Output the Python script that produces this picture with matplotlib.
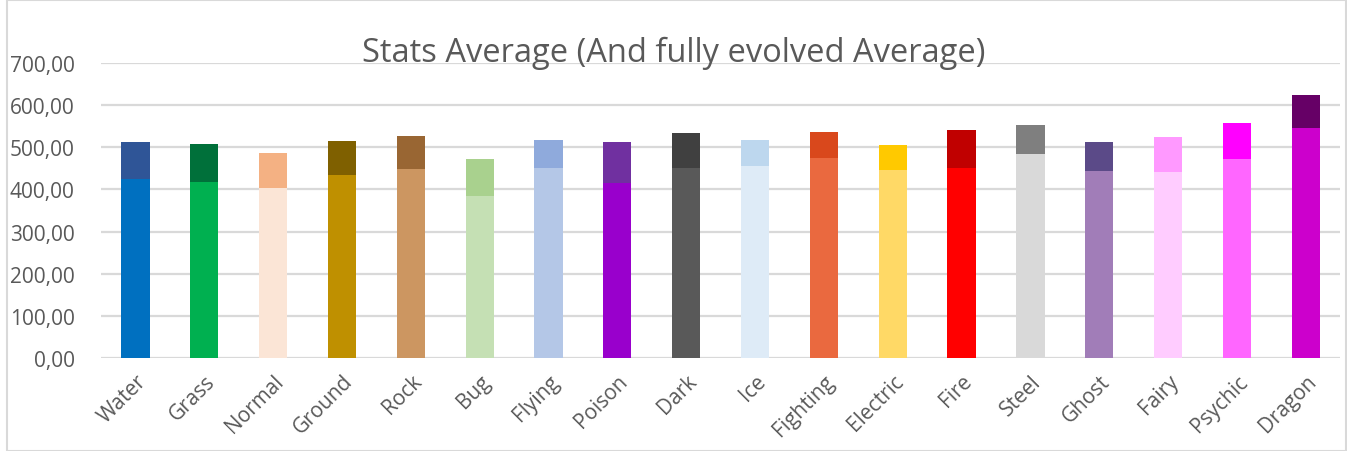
import matplotlib.pyplot as plt
import numpy as np

types = ["Water", "Grass", "Normal", "Ground", "Rock", "Bug", "Flying", "Poison", "Dark",
         "Ice", "Fighting", "Electric", "Fire", "Steel", "Ghost", "Fairy", "Psychic", "Dragon"]
avg_all = [425, 418, 404, 434, 449, 385, 451, 416, 451,
           456, 475, 446, 451, 484, 444, 442, 472, 545]
avg_evolved = [512, 508, 487, 515, 527, 472, 517, 513, 534,
               517, 536, 506, 541, 553, 513, 524, 557, 624]

colors_all = ["#0070C0", "#00B050", "#FBE5D6", "#BF9000", "#CC9661", "#C5E0B4", "#B4C7E7", "#9900CC", "#595959",
              "#DEEBF7", "#EA693F", "#FFD966", "#FF0000", "#D9D9D9", "#A17DB8", "#FFCCFF", "#FF66FF", "#CC00CC"]
colors_evolved = ["#2F5597", "#00703A", "#F4B183", "#7F6000", "#996633", "#A9D18E", "#8FAADC", "#7030A0", "#404040",
                  "#BDD7EE", "#D9481C", "#FFC900", "#C00000", "#7F7F7F", "#5B4A88", "#FF99FF", "#FF00FF", "#660066"]

fontsize = 15
textcolor = "#595959"
plt.rcParams["font.family"] = ["Open Sans", "DejaVu Sans"]

fig = plt.figure(figsize = (13.47, 4.52), dpi = 100)
ax = fig.add_axes([0.075, 0.2058, 0.92, 0.6527])

x = np.arange(len(types))
ax.bar(x, avg_evolved, width = 0.41, color = colors_evolved, zorder = 2)
ax.bar(x, avg_all, width = 0.41, color = colors_all, zorder = 3)

ax.set_xlim(-0.5, len(types) - 0.5)
ax.set_ylim(0, 700)
ax.set_yticks(np.arange(0, 701, 100))
ax.set_yticklabels(["{:.2f}".format(v).replace(".", ",") for v in range(0, 701, 100)],
                   fontsize = fontsize, color = textcolor)
ax.set_xticks(x)
ax.set_xticklabels(types, rotation = 45, ha = "right", rotation_mode = "anchor",
                   fontsize = fontsize, color = textcolor)
ax.tick_params(axis = "y", length = 0, pad = 19)
ax.tick_params(axis = "x", length = 0, pad = 9)
ax.grid(axis = "y", color = "#D9D9D9", linewidth = 1.6, zorder = 0)
for s in ax.spines.values():
    s.set_visible(False)

fig.text(0.5, 0.882, "Stats Average (And fully evolved Average)", ha = "center", va = "center",
         fontsize = 23.5, color = textcolor)

# chart frame
fig.patches.append(plt.Rectangle((0.005, 0.0), 0.994, 0.998, transform = fig.transFigure,
                                 fill = False, edgecolor = "#D9D9D9", linewidth = 1.5))

plt.savefig("out.png")
